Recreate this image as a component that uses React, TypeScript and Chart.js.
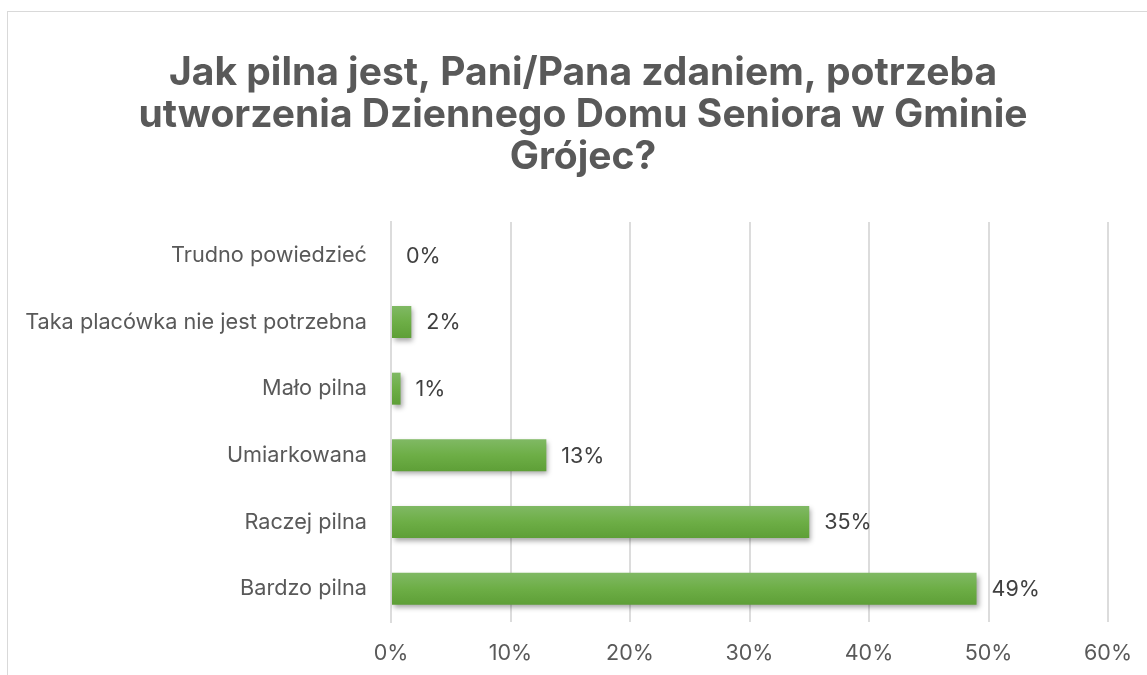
import React, { useEffect, useRef } from "react";
import { Chart, registerables } from "chart.js";

Chart.register(...registerables);

const titleLines = [
  "Jak pilna jest, Pani/Pana zdaniem, potrzeba",
  "utworzenia Dziennego Domu Seniora w Gminie",
  "Grójec?",
];

const categories = [
  "Trudno powiedzieć",
  "Taka placówka nie jest potrzebna",
  "Mało pilna",
  "Umiarkowana",
  "Raczej pilna",
  "Bardzo pilna",
];

const shares = [0, 1.7, 0.8, 13, 35, 49];

const xTicks = [0, 10, 20, 30, 40, 50, 60];

const TITLE_FONT = "Inter, 'Open Sans', sans-serif";
const CAT_FONT = "Inter, 'Open Sans', sans-serif";
const NUM_FONT = "Inter, 'Open Sans', sans-serif";
const BAR_PCT = 0.48;

export default function App() {
  const canvasRef = useRef<HTMLCanvasElement | null>(null);

  useEffect(() => {
    const canvas = canvasRef.current;
    if (!canvas) return;

    const titlePlugin = {
      id: "centeredTitle",
      afterDraw(chart: any) {
        const ctx = chart.ctx;
        ctx.save();
        ctx.font = `bold 39px ${TITLE_FONT}`;
        ctx.fillStyle = "#595959";
        ctx.textAlign = "center";
        ctx.textBaseline = "middle";
        const cx = chart.width / 2;
        titleLines.forEach((line, i) => {
          ctx.fillText(line, cx, 61 + i * 42);
        });
        ctx.restore();
      },
    };

    const shadowPlugin = {
      id: "shadowAndLabels",
      beforeDatasetsDraw(chart: any) {
        const ctx = chart.ctx;
        ctx.save();
        ctx.shadowColor = "rgba(0,0,0,0.35)";
        ctx.shadowBlur = 5;
        ctx.shadowOffsetX = 2;
        ctx.shadowOffsetY = 3;
      },
      afterDatasetsDraw(chart: any) {
        const ctx = chart.ctx;
        ctx.restore();
        const meta = chart.getDatasetMeta(0);
        ctx.save();
        ctx.font = `21.5px ${NUM_FONT}`;
        ctx.fillStyle = "#404040";
        ctx.textAlign = "left";
        ctx.textBaseline = "middle";
        meta.data.forEach((el: any, i: number) => {
          const v = shares[i];
          ctx.fillText(Math.round(v) + "%", el.x + 15, el.y + 1);
        });
        ctx.restore();
      },
    };

    const chart = new Chart(canvas, {
      type: "bar",
      data: {
        labels: categories,
        datasets: [
          {
            data: shares,
            backgroundColor: (c: any) => {
              const ch = c.chart;
              const ys = ch.scales && ch.scales.y;
              if (!ys || c.dataIndex === undefined || !ch.chartArea) return "#6aab45";
              const center = ys.getPixelForValue(c.dataIndex);
              const half = ((ch.chartArea.bottom - ch.chartArea.top) / categories.length) * BAR_PCT / 2;
              const g = ch.ctx.createLinearGradient(0, center - half, 0, center + half);
              g.addColorStop(0, "#80b964");
              g.addColorStop(0.5, "#6dae46");
              g.addColorStop(1, "#5e9f37");
              return g;
            },
            borderWidth: 0,
            barPercentage: BAR_PCT,
            categoryPercentage: 1,
          },
        ],
      },
      options: {
        indexAxis: "y",
        animation: false,
        responsive: false,
        maintainAspectRatio: false,
        layout: { padding: { left: 0, right: 50, top: 210, bottom: 0 } },
        plugins: {
          legend: { display: false },
          tooltip: { enabled: false },
          title: { display: false },
        },
        scales: {
          x: {
            min: 0,
            max: 60,
            afterBuildTicks: (s: any) => {
              s.ticks = xTicks.map((v) => ({ value: v }));
            },
            ticks: {
              callback: (v: any) => v + "%",
              color: "#595959",
              font: { family: NUM_FONT, size: 21.5 },
              padding: 19,
            },
            grid: { color: "#dcdcdc", lineWidth: 2, drawTicks: false },
            border: { display: false },
            afterFit: (s: any) => {
              s.height = 54;
            },
          },
          y: {
            ticks: {
              color: "#595959",
              font: { family: CAT_FONT, size: 21.7 },
              padding: 24,
            },
            grid: { display: false, drawTicks: false },
            border: { display: true, color: "#dcdcdc", width: 2 },
            afterFit: (s: any) => {
              s.width = 383;
            },
          },
        },
      },
      plugins: [shadowPlugin, titlePlugin],
    } as any);

    return () => chart.destroy();
  }, []);

  return (
    <div style={{ position: "fixed", inset: 0, overflow: "hidden", background: "#fff" }}>
      <div
        style={{
          position: "absolute",
          left: 7,
          top: 11,
          width: 1160,
          height: 700,
          border: "1px solid #d9d9d9",
          background: "#fff",
        }}
      >
        <canvas ref={canvasRef} width={1150} height={664} style={{ display: "block" }} />
      </div>
    </div>
  );
}
